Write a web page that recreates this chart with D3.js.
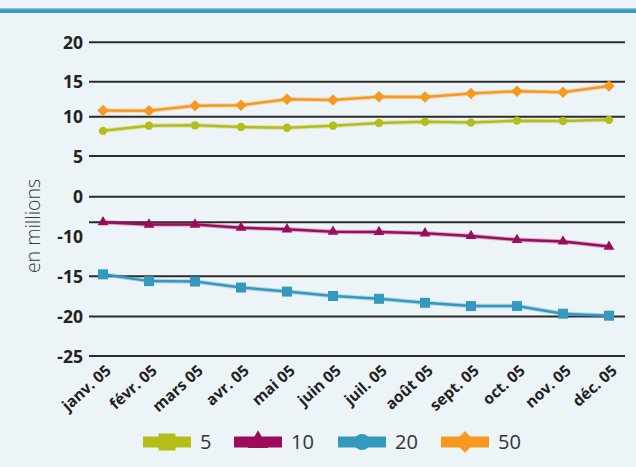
<!DOCTYPE html>
<html>
<head>
<meta charset="utf-8">
<script src="https://cdn.jsdelivr.net/npm/d3@7"></script>
<style>
  html, body { margin: 0; padding: 0; background: #ecf4f8; }
  svg { display: block; }
  text { font-family: "Open Sans", "Noto Sans", sans-serif; }
</style>
</head>
<body>
<svg id="chart" width="636" height="467"></svg>
<script>
// ---- data ----
const months = ["janv. 05","févr. 05","mars 05","avr. 05","mai 05","juin 05","juil. 05","août 05","sept. 05","oct. 05","nov. 05","déc. 05"];
const series5  = [8.2, 8.85, 8.9, 8.7, 8.6, 8.85, 9.2, 9.35, 9.25, 9.5, 9.45, 9.6];
const series10 = [-6.35, -6.95, -6.95, -7.75, -8.15, -8.75, -8.8, -9.15, -9.8, -10.4, -10.6, -11.25];
const series20 = [-14.75, -15.6, -15.65, -16.4, -16.9, -17.45, -17.8, -18.3, -18.7, -18.7, -19.65, -19.9];
const series50 = [10.9, 10.85, 11.55, 11.65, 12.5, 12.4, 12.85, 12.8, 13.3, 13.65, 13.5, 14.4];
const seriesNames = ["5", "10", "20", "50"];
const yTickLabels = [20, 15, 10, 5, 0, -10, -15, -20, -25];
const yGridValues = [20, 15, 10, 5, 0, -6.4, -15, -20, -25];
const yTitle = "en millions";

// ---- styles ----
const colors = { "5": "#b5bd1b", "10": "#9b0c5d", "20": "#3499bd", "50": "#f7991e" };
const plotSymbols = { "5": d3.symbolCircle, "10": d3.symbolTriangle, "20": d3.symbolSquare, "50": d3.symbolSquare };
const plotSizes = { "5": 55, "10": 50, "20": 100, "50": 66 };
const legendSymbols = { "5": d3.symbolSquare, "10": d3.symbolTriangle, "20": d3.symbolCircle, "50": d3.symbolSquare };
const legendSizes = { "5": 290, "10": 180, "20": 200, "50": 230 };
const rotated = { "5": 0, "10": 0, "20": 0, "50": 45 };

const svg = d3.select("#chart");

// top band
svg.append("rect").attr("x", 0).attr("y", 8).attr("width", 636).attr("height", 5).attr("fill", "#3a9bc0");
svg.append("rect").attr("x", 0).attr("y", 8).attr("width", 636).attr("height", 1.3).attr("fill", "#8cc6dc");

// scales
const x = d3.scalePoint().domain(months).range([103, 609]);
const y = d3.scaleLinear()
  .domain([-25, -20, -15, -10, 0, 5, 10, 15, 20])
  .range([356, 316.5, 276.3, 236.7, 196.8, 156, 116.7, 81.7, 42.3]);

// gridlines
svg.append("g").selectAll("line").data(yGridValues).join("line")
  .attr("x1", 89).attr("x2", 625)
  .attr("y1", d => y(d)).attr("y2", d => y(d))
  .attr("stroke", "#2b2b2b").attr("stroke-width", 2);

// y axis labels
const yAxis = d3.axisLeft(y).tickValues(yTickLabels).tickSize(0).tickPadding(0).tickFormat(d => String(d));
const yg = svg.append("g").attr("transform", "translate(83,0)").call(yAxis);
yg.select(".domain").remove();
yg.selectAll("text").attr("font-size", 17.5).attr("font-weight", 700).attr("fill", "#222").attr("dy", "0.35em");

// x axis labels
const xAxis = d3.axisBottom(x).tickSize(0).tickPadding(0);
const xg = svg.append("g").call(xAxis);
xg.select(".domain").remove();
xg.selectAll(".tick").attr("transform", d => `translate(${x(d) + 9},372)`);
xg.selectAll("text")
  .attr("font-size", 15.5).attr("font-weight", 700).attr("fill", "#222")
  .attr("text-anchor", "end").attr("x", 0).attr("y", 0).attr("dy", 0)
  .attr("transform", "rotate(-42)");

// y title
svg.append("text")
  .attr("transform", "translate(40,226) rotate(-90)")
  .attr("text-anchor", "middle")
  .attr("font-size", 19.5).attr("font-weight", 300).attr("fill", "#3a3a3a")
  .text(yTitle);

// series
const allSeries = [
  { name: "5", values: series5 },
  { name: "10", values: series10 },
  { name: "20", values: series20 },
  { name: "50", values: series50 }
];
const line = d3.line().x((d, i) => x(months[i])).y(d => y(d));

const sg = svg.append("g").selectAll("g").data(allSeries).join("g");
sg.append("path")
  .attr("d", d => line(d.values))
  .attr("fill", "none").attr("stroke", d => colors[d.name]).attr("stroke-opacity", 0.3).attr("stroke-width", 4.5);
sg.append("path")
  .attr("d", d => line(d.values))
  .attr("fill", "none").attr("stroke", d => colors[d.name]).attr("stroke-width", 2.5);
sg.each(function(s) {
  d3.select(this).selectAll("path.m").data(s.values).join("path")
    .attr("class", "m")
    .attr("transform", (d, i) => `translate(${x(months[i])},${y(d)}) rotate(${rotated[s.name]})`)
    .attr("d", d3.symbol().type(plotSymbols[s.name]).size(plotSizes[s.name]))
    .attr("fill", colors[s.name]);
});

// legend
const legendX = [143, 234, 338, 441];
const lg = svg.append("g").selectAll("g").data(seriesNames).join("g")
  .attr("transform", (d, i) => `translate(${legendX[i]},442)`);
lg.append("rect").attr("x", 0).attr("y", -5.5).attr("width", 48).attr("height", 11).attr("fill", d => colors[d]);
lg.append("path")
  .attr("transform", d => `translate(24,0) rotate(${rotated[d]})`)
  .attr("d", d => d3.symbol().type(legendSymbols[d]).size(legendSizes[d])())
  .attr("fill", d => colors[d]);
lg.append("text").attr("x", 57).attr("y", 7).attr("font-size", 20).attr("fill", "#333").text(d => d);
</script>
</body>
</html>
